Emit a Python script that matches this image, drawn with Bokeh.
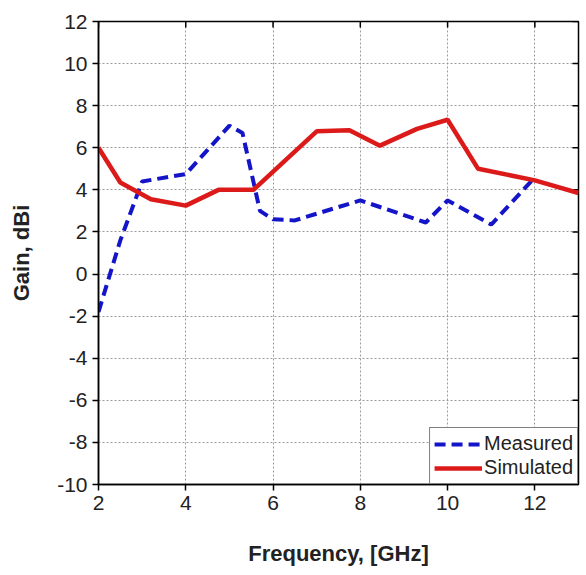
import math
from bokeh.plotting import figure
from bokeh.models import Range1d, Legend, LegendItem, FixedTicker
from bokeh.embed import file_html
from bokeh.resources import INLINE

# Data
meas_freq = [2.0, 2.5, 3.0, 4.0, 4.5, 5.0, 5.3, 5.7, 6.0, 6.5, 8.0, 9.5, 10.0, 11.0, 12.0]
meas_gain = [-1.8, 1.6, 4.4, 4.75, 5.9, 7.05, 6.7, 3.0, 2.6, 2.55, 3.5, 2.45, 3.5, 2.35, 4.6]

sim_freq = [2.0, 2.5, 3.2, 4.0, 4.75, 5.55, 6.2, 7.0, 7.75, 8.45, 9.3, 10.0, 10.7, 12.0, 13.0]
sim_gain = [6.0, 4.35, 3.55, 3.25, 4.0, 4.0, 5.25, 6.78, 6.83, 6.1, 6.9, 7.33, 5.0, 4.45, 3.85]

x_ticks = [2, 4, 6, 8, 10, 12]
y_ticks = [-10, -8, -6, -4, -2, 0, 2, 4, 6, 8, 10, 12]
X_MIN, X_MAX = 2, 13
Y_MIN, Y_MAX = -10, 12

FONT = "Liberation Sans"

p = figure(width=586, height=575, output_backend="svg", toolbar_location=None,
           x_range=Range1d(X_MIN, X_MAX), y_range=Range1d(Y_MIN, Y_MAX),
           min_border_left=98, min_border_right=8, min_border_top=21, min_border_bottom=91)
p.background_fill_color = "white"
p.border_fill_color = "white"
p.outline_line_color = "black"
p.outline_line_width = 1.5

# grid
for g, t in ((p.xgrid, x_ticks), (p.ygrid, y_ticks)):
    g.ticker = FixedTicker(ticks=t)
    g.grid_line_color = "#9a9a9a"
    g.grid_line_dash = "2 2"
    g.grid_line_width = 1

# main axes
for ax, t in ((p.xaxis[0], x_ticks), (p.yaxis[0], y_ticks)):
    ax.ticker = FixedTicker(ticks=t)
    ax.minor_tick_line_color = None
    ax.major_tick_out = 6
    ax.major_tick_in = 0
    ax.major_tick_line_width = 1.5
    ax.axis_line_width = 1.5
    ax.axis_line_color = "black"
    ax.major_label_text_font = FONT
    ax.major_label_text_font_size = "21px"
    ax.major_label_text_color = "#222222"
    ax.major_label_standoff = 5
    ax.axis_label_text_font = FONT
    ax.axis_label_text_font_style = "bold"
    ax.axis_label_text_font_size = "22px"
    ax.axis_label_text_color = "#222222"

p.yaxis[0].major_label_overrides = {t: str(t) for t in y_ticks}
p.xaxis[0].axis_label = "Frequency, [GHz]"
p.xaxis[0].axis_label_standoff = 28
p.yaxis[0].axis_label = "Gain, dBi"
p.yaxis[0].axis_label_standoff = 20

# inward ticks on the top and right frame edges
p.ray(x=x_ticks, y=[Y_MAX] * len(x_ticks), length=6, length_units="screen",
      angle=-math.pi / 2, line_color="black", line_width=1.5)
p.ray(x=[X_MAX] * len(y_ticks), y=y_ticks, length=6, length_units="screen",
      angle=math.pi, line_color="black", line_width=1.5)

r_meas = p.line(meas_freq, meas_gain, line_color="#1414C8", line_width=4, line_dash="11 6")
r_sim = p.line(sim_freq, sim_gain, line_color="#DC1A1A", line_width=4.5)

legend = Legend(items=[LegendItem(label="Measured", renderers=[r_meas]),
                       LegendItem(label="Simulated", renderers=[r_sim])],
                location="bottom_right")
legend.margin = 0
legend.padding = 4
legend.spacing = 1
legend.glyph_width = 48
legend.label_standoff = 2
legend.label_text_font = FONT
legend.label_text_font_size = "20px"
legend.label_text_color = "#222222"
legend.border_line_color = "black"
legend.border_line_width = 1
legend.background_fill_alpha = 1
p.add_layout(legend)

open("out.html", "w").write(file_html(p, INLINE))
